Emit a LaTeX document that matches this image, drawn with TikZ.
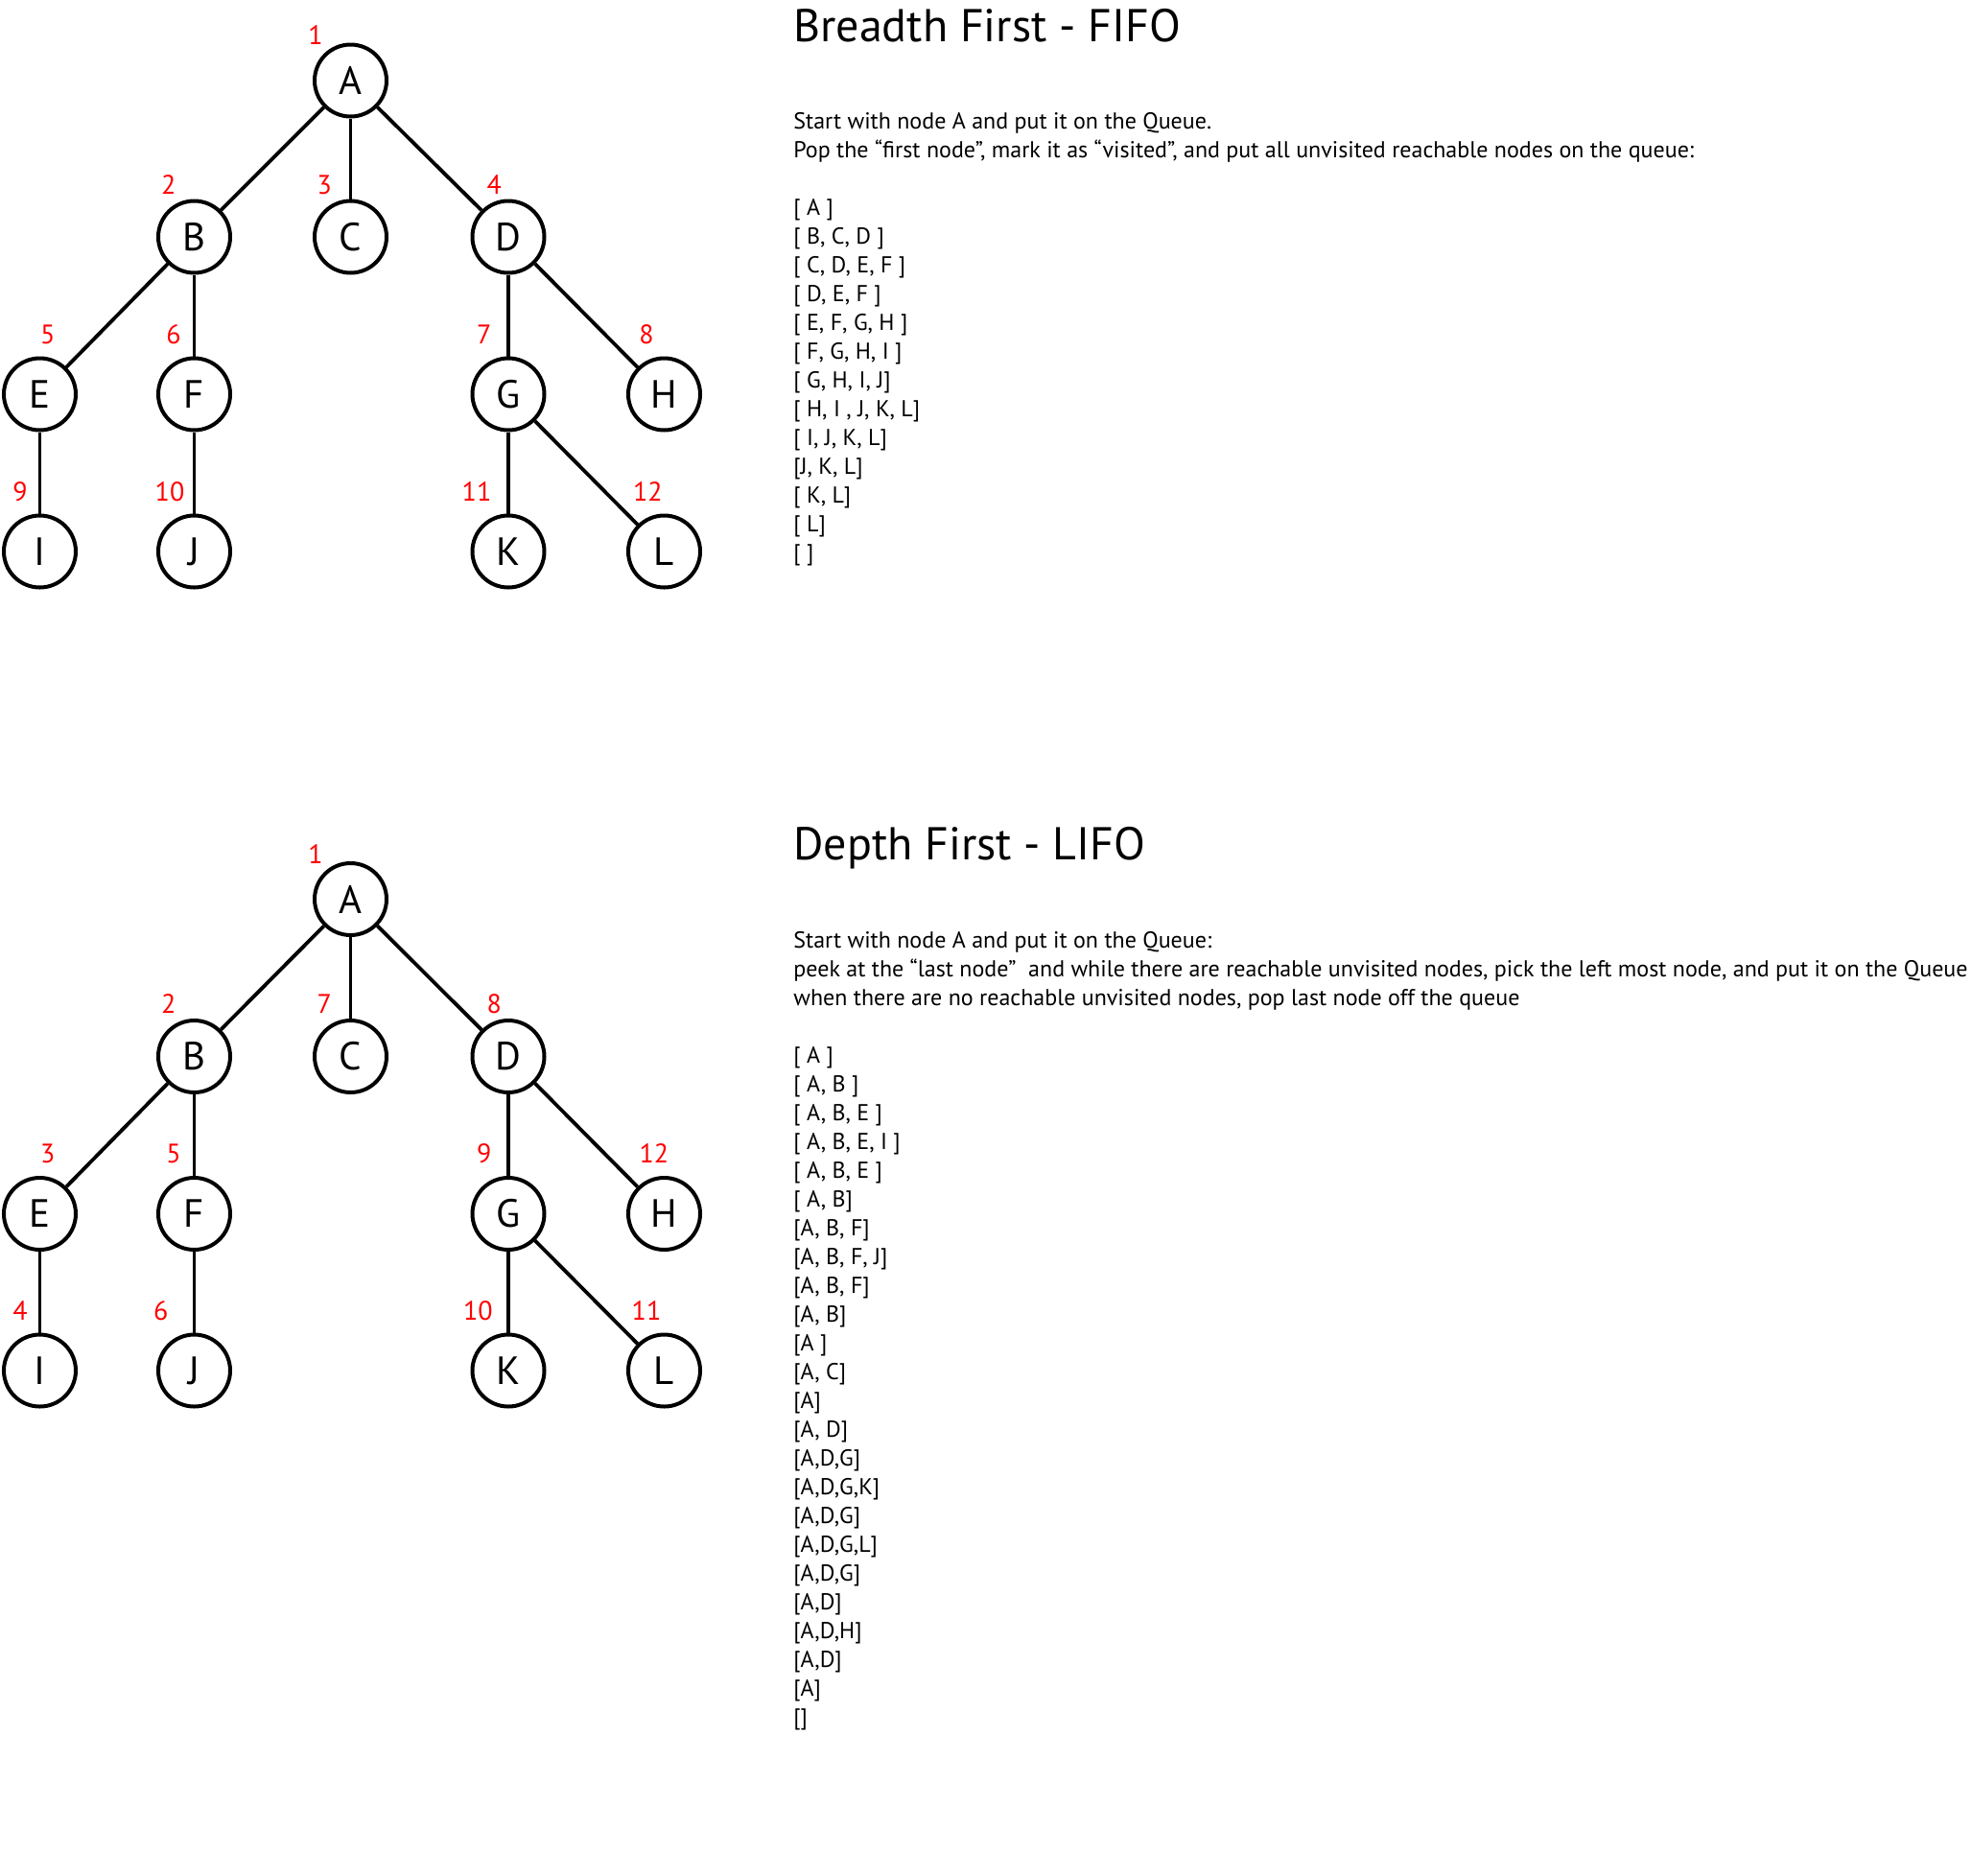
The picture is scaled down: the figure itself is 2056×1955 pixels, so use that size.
\documentclass[tikz,border=0pt]{standalone}
\usepackage{fontspec}
\setmainfont{PT Sans}
\begin{document}
\begin{tikzpicture}[x=0.5pt,y=-0.5pt]
\tikzset{
  vert/.style={circle, draw, line width=2pt, minimum size=37.5pt, inner sep=0pt, font=\fontsize{20.5}{21}\selectfont},
  conn/.style={line width=1.9pt},
  num/.style={text=red, inner sep=0pt, font=\fontsize{14}{14}\selectfont},
  body/.style={anchor=base west, inner sep=0pt, font=\fontsize{12}{15}\selectfont},
  ttl/.style={anchor=base west, inner sep=0pt, font=\fontsize{24}{26}\selectfont}
}
\useasboundingbox (0,0) rectangle (2056,1955);
\fill[white] (0,0) rectangle (2056,1955);

% ---------- top tree ----------
\node[vert] (tA) at (365.5,84) {A};
\node[vert] (tB) at (202.5,247) {B};
\node[vert] (tC) at (365.5,247) {C};
\node[vert] (tD) at (530,247) {D};
\node[vert] (tE) at (41.5,411) {E};
\node[vert] (tF) at (202.5,411) {F};
\node[vert] (tG) at (530,411) {G};
\node[vert] (tH) at (692.5,411) {H};
\node[vert] (tI) at (41.5,575) {I};
\node[vert] (tJ) at (202.5,575) {J};
\node[vert] (tK) at (530,575) {K};
\node[vert] (tL) at (692.5,575) {L};
\draw[conn] (tA) -- (tB); \draw[conn] (tA) -- (tC); \draw[conn] (tA) -- (tD);
\draw[conn] (tB) -- (tE); \draw[conn] (tB) -- (tF);
\draw[conn] (tD) -- (tG); \draw[conn] (tD) -- (tH);
\draw[conn] (tE) -- (tI); \draw[conn] (tF) -- (tJ);
\draw[conn] (tG) -- (tK); \draw[conn] (tG) -- (tL);

\node[num] (tn1) at (329,36.7) {1};
\node[num] (tn2) at (175.7,192.7) {2};
\node[num] (tn3) at (338.3,192.7) {3};
\node[num] (tn4) at (515.3,192.7) {4};
\node[num] (tn5) at (49.8,348.8) {5};
\node[num] (tn6) at (181,348.8) {6};
\node[num] (tn7) at (504.8,348.8) {7};
\node[num] (tn8) at (674,348.8) {8};
\node[num] (tn9) at (21,512.7) {9};
\node[num] (tn10) at (177,512.7) {10};
\node[num] (tn11) at (497,512.7) {11};
\node[num] (tn12) at (675.3,512.7) {12};

% ---------- bottom tree ----------
\node[vert] (bA) at (365.5,937.5) {A};
\node[vert] (bB) at (202.5,1101.5) {B};
\node[vert] (bC) at (365.5,1101.5) {C};
\node[vert] (bD) at (530,1101.5) {D};
\node[vert] (bE) at (41.5,1265.5) {E};
\node[vert] (bF) at (202.5,1265.5) {F};
\node[vert] (bG) at (530,1265.5) {G};
\node[vert] (bH) at (692.5,1265.5) {H};
\node[vert] (bI) at (41.5,1429) {I};
\node[vert] (bJ) at (202.5,1429) {J};
\node[vert] (bK) at (530,1429) {K};
\node[vert] (bL) at (692.5,1429) {L};
\draw[conn] (bA) -- (bB); \draw[conn] (bA) -- (bC); \draw[conn] (bA) -- (bD);
\draw[conn] (bB) -- (bE); \draw[conn] (bB) -- (bF);
\draw[conn] (bD) -- (bG); \draw[conn] (bD) -- (bH);
\draw[conn] (bE) -- (bI); \draw[conn] (bF) -- (bJ);
\draw[conn] (bG) -- (bK); \draw[conn] (bG) -- (bL);

\node[num] (bn1) at (329,890.3) {1};
\node[num] (bn2) at (175.7,1046.3) {2};
\node[num] (bn7) at (338.3,1046.3) {7};
\node[num] (bn8) at (515.3,1046.3) {8};
\node[num] (bn3) at (49.8,1202.4) {3};
\node[num] (bn5) at (181,1202.4) {5};
\node[num] (bn9) at (504.8,1202.4) {9};
\node[num] (bn12) at (681.8,1202.4) {12};
\node[num] (bn4) at (21,1366.3) {4};
\node[num] (bn6) at (167.8,1366.3) {6};
\node[num] (bn10) at (498.3,1366.3) {10};
\node[num] (bn11) at (674,1366.3) {11};

% ---------- texts ----------
\node[ttl] (t1) at (827,43.3) {Breadth First - FIFO};
\node[body] (t1a) at (827,134) {Start with node A and put it on the Queue.};
\node[body] (t1b) at (827,164) {Pop the “first node”, mark it as “visited”, and put all unvisited reachable nodes on the queue:};
\foreach \t [count=\i from 0] in {{[ A ]},{[ B, C, D ]},{[ C, D, E, F ]},{[ D, E, F ]},{[ E, F, G, H ]},{[ F, G, H, I ]},{[ G, H, I, J]},{[ H, I , J, K, L]},{[ I, J, K, L]},{[J, K, L]},{[ K, L]},{[ L]},{[ ]}}
  \node[body] (tq\i) at (827,224+30*\i) {\t};

\node[ttl] (t2) at (827,896) {Depth First - LIFO};
\node[body] (t2a) at (827,988.6) {Start with node A and put it on the Queue:};
\node[body] (t2b) at (827,1018.6) {peek at the “last node”\ \ and while there are reachable unvisited nodes, pick the left most node, and put it on the Queue};
\node[body] (t2c) at (827,1048.6) {when there are no reachable unvisited nodes, pop last node off the queue};
\foreach \t [count=\i from 0] in {{[ A ]},{[ A, B ]},{[ A, B, E ]},{[ A, B, E, I ]},{[ A, B, E ]},{[ A, B]},{[A, B, F]},{[A, B, F, J]},{[A, B, F]},{[A, B]},{[A ]},{[A, C]},{[A]},{[A, D]},{[A,D,G]},{[A,D,G,K]},{[A,D,G]},{[A,D,G,L]},{[A,D,G]},{[A,D]},{[A,D,H]},{[A,D]},{[A]},{[]}}
  \node[body] (bq\i) at (827,1108+30*\i) {\t};
\end{tikzpicture}
\end{document}
